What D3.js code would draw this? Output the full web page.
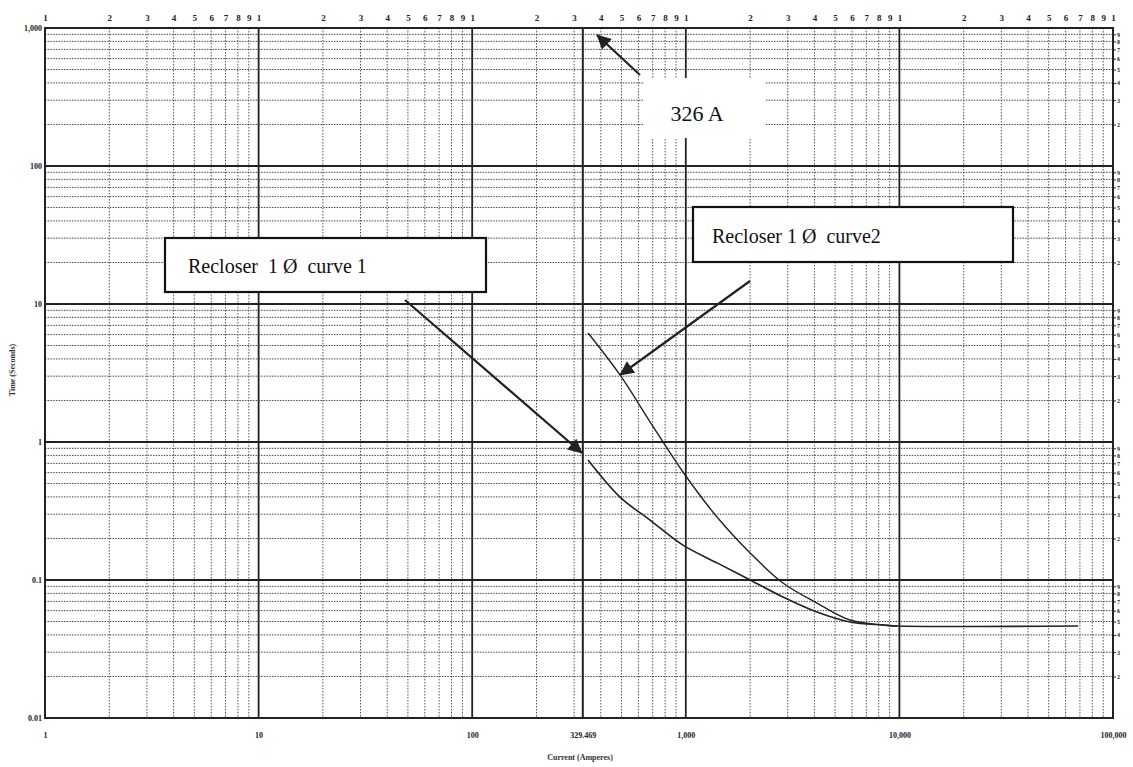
<!DOCTYPE html>
<html><head><meta charset="utf-8">
<script src="https://cdn.jsdelivr.net/npm/d3@7"></script>
<style>
html,body{margin:0;padding:0;background:#fff;}
svg{display:block;}
</style></head>
<body>
<svg id="chart" width="1133" height="767"></svg>
<script>
// ---- data ----
const xMajorTicks = [1, 10, 100, 329.469, 1000, 10000, 100000];
const xMajorLabels = ["1", "10", "100", "329.469", "1,000", "10,000", "100,000"];
const yMajorTicks = [0.01, 0.1, 1, 10, 100, 1000];
const yMajorLabels = ["0.01", "0.1", "1", "10", "100", "1,000"];
const minorDigits = [2, 3, 4, 5, 6, 7, 8, 9];
const xDecades = [1, 10, 100, 1000, 10000];
const yDecades = [0.01, 0.1, 1, 10, 100];

const curve1Current = [348.6, 492, 680, 970, 1400, 2000, 2850, 4110, 5870, 8380, 9750, 68600];
const curve1Time    = [0.741, 0.399, 0.272, 0.179, 0.133, 0.100, 0.0753, 0.0586, 0.0496, 0.0472, 0.0464, 0.0464];
const curve2Current = [348.6, 492, 680, 970, 1400, 2000, 2850, 4110, 5870, 8380, 9750];
const curve2Time    = [6.16, 3.06, 1.40, 0.606, 0.286, 0.157, 0.0951, 0.0681, 0.0513, 0.0472, 0.0464];

const markerCurrent = 329.469;
const xTitle = "Current (Amperes)";
const yTitle = "Time (Seconds)";
const note326 = "326 A";
const label1 = "Recloser  1 Ø  curve 1";
const label2 = "Recloser 1 Ø  curve2";

// ---- layout ----
const svg = d3.select("#chart");
const L = 45, R = 1113, T = 28, B = 718;
const x = d3.scaleLog().domain([1, 100000]).range([L, R]);
const y = d3.scaleLog().domain([0.01, 1000]).range([B, T]);
const serif = "'Liberation Serif','DejaVu Serif',serif";

const xMinor = xDecades.flatMap(d => minorDigits.map(k => k * d));
const yMinor = yDecades.flatMap(d => minorDigits.map(k => k * d));

const grid = svg.append("g");
grid.selectAll(".vx").data(xMinor).join("line")
  .attr("x1", d => x(d)).attr("x2", d => x(d)).attr("y1", T).attr("y2", B)
  .attr("stroke", "#555").attr("stroke-width", 1).attr("stroke-dasharray", "1.5,1.5");
grid.selectAll(".hy").data(yMinor).join("line")
  .attr("x1", L).attr("x2", R).attr("y1", d => y(d)).attr("y2", d => y(d))
  .attr("stroke", "#444").attr("stroke-width", 1).attr("stroke-dasharray", "1.5,1.2");
grid.selectAll(".mx").data(xDecades.concat([100000])).join("line")
  .attr("x1", d => x(d)).attr("x2", d => x(d)).attr("y1", T).attr("y2", B)
  .attr("stroke", "#222").attr("stroke-width", 1.8);
grid.selectAll(".my").data(yMajorTicks).join("line")
  .attr("x1", L).attr("x2", R).attr("y1", d => y(d)).attr("y2", d => y(d))
  .attr("stroke", "#222").attr("stroke-width", 1.8);
grid.append("line").attr("x1", x(markerCurrent)).attr("x2", x(markerCurrent))
  .attr("y1", T).attr("y2", B).attr("stroke", "#222").attr("stroke-width", 2);
svg.append("rect").attr("x", L).attr("y", T).attr("width", R - L).attr("height", B - T)
  .attr("fill", "none").attr("stroke", "#222").attr("stroke-width", 2);

// ---- axes ----
const fmtLabel = (ticks, labels) => d => labels[ticks.indexOf(d)];
const leadDigit = d => String(Math.round(d / Math.pow(10, Math.floor(Math.log10(d) + 1e-9))));
const bottom = svg.append("g").attr("transform", `translate(0,${B})`)
  .call(d3.axisBottom(x).tickValues(xMajorTicks).tickFormat(fmtLabel(xMajorTicks, xMajorLabels)).tickSize(0).tickPadding(14));
const left = svg.append("g").attr("transform", `translate(${L},0)`)
  .call(d3.axisLeft(y).tickValues(yMajorTicks).tickFormat(fmtLabel(yMajorTicks, yMajorLabels)).tickSize(0).tickPadding(3));
const topVals = xDecades.flatMap(d => [1].concat(minorDigits).map(k => k * d)).concat([100000]);
const topAx = svg.append("g").attr("transform", `translate(0,${T})`)
  .call(d3.axisTop(x).tickValues(topVals).tickFormat(leadDigit).tickSize(0).tickPadding(7));
const rightAx = svg.append("g").attr("transform", `translate(${R},0)`)
  .call(d3.axisRight(y).tickValues(yMinor).tickFormat(leadDigit).tickSize(3).tickPadding(1));
[bottom, left, topAx, rightAx].forEach(g => {
  g.select(".domain").remove();
  g.selectAll("text").attr("font-family", serif).attr("font-weight", "bold").attr("fill", "#222");
});
bottom.selectAll("text").attr("font-size", 8);
left.selectAll("text").attr("font-size", 8);
topAx.selectAll("text").attr("font-size", 9);
rightAx.selectAll("text").attr("font-size", 6);
rightAx.selectAll("line").attr("stroke", "#222");

svg.append("text").attr("x", 580).attr("y", 760).attr("text-anchor", "middle")
  .attr("font-family", serif).attr("font-size", 8).attr("font-weight", "bold").attr("fill", "#333").text(xTitle);
svg.append("text").attr("transform", "translate(15,370) rotate(-90)").attr("text-anchor", "middle")
  .attr("font-family", serif).attr("font-size", 8).attr("font-weight", "bold").attr("fill", "#333").text(yTitle);

// ---- curves ----
const line = d3.line().x(d => x(d[0])).y(d => y(d[1])).curve(d3.curveCatmullRom.alpha(0.5));
const c1 = curve1Current.map((c, i) => [c, curve1Time[i]]);
const c2 = curve2Current.map((c, i) => [c, curve2Time[i]]);
svg.append("path").datum(c1).attr("d", line).attr("fill", "none").attr("stroke", "#222").attr("stroke-width", 1.6);
svg.append("path").datum(c2).attr("d", line).attr("fill", "none").attr("stroke", "#222").attr("stroke-width", 1.4);

// ---- annotations ----
const defs = svg.append("defs");
defs.append("marker").attr("id", "ah").attr("viewBox", "0 0 10 10").attr("refX", 9.5).attr("refY", 5)
  .attr("markerWidth", 8).attr("markerHeight", 6.5).attr("markerUnits", "strokeWidth").attr("orient", "auto")
  .append("path").attr("d", "M0,0 L10,5 L0,10 Z").attr("fill", "#222");

svg.append("rect").attr("x", 643).attr("y", 78).attr("width", 122).attr("height", 60).attr("fill", "#fff");
svg.append("text").attr("x", 697).attr("y", 121).attr("text-anchor", "middle")
  .attr("font-family", serif).attr("font-size", 22).attr("fill", "#111").text(note326);
svg.append("line").attr("x1", 640).attr("y1", 75).attr("x2", 597).attr("y2", 35)
  .attr("stroke", "#222").attr("stroke-width", 2.2).attr("marker-end", "url(#ah)");

function labelBox(bx, by, bw, bh, txt, tx, ty) {
  svg.append("rect").attr("x", bx).attr("y", by).attr("width", bw).attr("height", bh)
    .attr("fill", "#fff").attr("stroke", "#111").attr("stroke-width", 2.2);
  svg.append("text").attr("x", tx).attr("y", ty).attr("font-family", serif).attr("font-size", 20)
    .attr("fill", "#111").style("white-space", "pre").text(txt);
}
labelBox(165, 238, 321, 54, label1, 188, 273);
labelBox(693, 207, 320, 55, label2, 712, 243);

svg.append("line").attr("x1", 405).attr("y1", 300).attr("x2", 582).attr("y2", 453)
  .attr("stroke", "#222").attr("stroke-width", 2.2).attr("marker-end", "url(#ah)");
svg.append("line").attr("x1", 750).attr("y1", 281).attr("x2", 620).attr("y2", 375)
  .attr("stroke", "#222").attr("stroke-width", 2.2).attr("marker-end", "url(#ah)");
</script>
</body></html>
